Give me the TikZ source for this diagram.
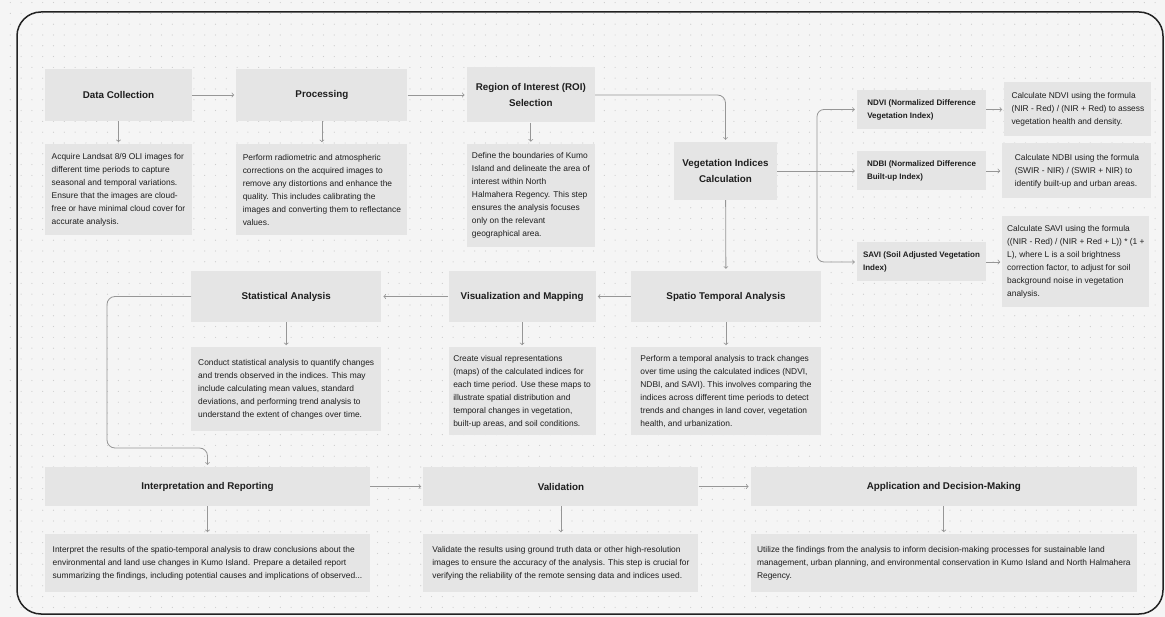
\documentclass[tikz,border=0pt]{standalone}
\usepackage{fontspec}
\setmainfont{Liberation Sans}
\usetikzlibrary{arrows, positioning}
\definecolor{bggray}{HTML}{F5F5F5}
\definecolor{dotgray}{HTML}{CDCDCD}
\definecolor{boxgray}{HTML}{E5E5E5}
\definecolor{inkgray}{HTML}{1E1E1E}
\definecolor{arrowgray}{HTML}{969696}
\definecolor{framegray}{HTML}{222222}

\begin{document}
\begin{tikzpicture}[x=1pt, y=-1pt]
		\tikzstyle{Node} = [rectangle, fill=boxgray, text=inkgray, align=center, font=\fontsize{9.8}{16}\selectfont\bfseries, inner sep=4pt]
		\tikzstyle{SubNode} = [rectangle, fill=boxgray, text=inkgray, align=left, font=\fontsize{8}{13}\selectfont\bfseries, minimum width=129pt, minimum height=39pt, inner sep=4pt]
		\tikzstyle{Text} = [rectangle, fill=boxgray, text=inkgray, align=left, font=\fontsize{8.4}{13}\selectfont, inner sep=4pt]
		\tikzstyle{arrow} = [draw=arrowgray, line width=0.8pt, ->, >=to, shorten >=2pt]
		\tikzstyle{line} = [draw=arrowgray, line width=0.8pt]

		% background, dots and frame
		\useasboundingbox (0,0) rectangle (1165,617);
		\fill[bggray] (0,0) rectangle (1165,617);
		\foreach \i in {0,...,107}{\foreach \j in {0,...,57}{\fill[dotgray] (\i*10.8+10.3,\j*10.8+2.6) circle[radius=0.6pt];}}
		\draw[framegray, line width=1.5pt, rounded corners=24pt] (17,12) rectangle (1163,614);

		% top row
		\node (dc) [Node, minimum width=147pt, minimum height=52pt] at (118.5,95) {Data Collection};
		\node (proc) [Node, minimum width=171pt, minimum height=52pt, right=44pt of dc] {Processing};
		\node (roi) [Node, minimum width=128pt, minimum height=55pt, right=59pt of proc] {Region of Interest (ROI)\\Selection};
		\node (dcb) [Text, minimum width=147pt, minimum height=91pt, below=23pt of dc] {Acquire Landsat 8/9 OLI images for\\different time periods to capture\\seasonal and temporal variations.\\Ensure that the images are cloud-\\free or have minimal cloud cover for\\accurate analysis.};
		\node (procb) [Text, minimum width=171pt, minimum height=91pt, below=23pt of proc] {Perform radiometric and atmospheric\\corrections on the acquired images to\\remove any distortions and enhance the\\quality. This includes calibrating the\\images and converting them to reflectance\\values.};
		\node (roib) [Text, minimum width=128pt, minimum height=103pt, below=21pt of roi] {Define the boundaries of Kumo\\Island and delineate the area of\\interest within North\\Halmahera Regency. This step\\ensures the analysis focuses\\only on the relevant\\geographical area.};

		% indices
		\node (vic) [Node, minimum width=103pt, minimum height=58pt] at (725.5,171) {Vegetation Indices\\Calculation};
		\node (ndvi) [SubNode] at (921.5,109.5) {NDVI (Normalized Difference\\Vegetation Index)};
		\node (ndbi) [SubNode] at (921.5,171) {NDBI (Normalized Difference\\Built-up Index)};
		\node (savi) [SubNode] at (921.5,262) {SAVI (Soil Adjusted Vegetation\\Index)};
		\node (ndvid) [Text, minimum width=147pt, minimum height=54pt, right=18pt of ndvi] {Calculate NDVI using the formula\\(NIR - Red) / (NIR + Red) to assess\\vegetation health and density.};
		\node (ndbid) [Text, minimum width=149pt, minimum height=55pt, right=16pt of ndbi] {Calculate NDBI using the formula\\(SWIR - NIR) / (SWIR + NIR) to\\identify built-up and urban areas.};
		\node (savid) [Text, minimum width=147pt, minimum height=91pt, right=16pt of savi] {Calculate SAVI using the formula\\((NIR - Red) / (NIR + Red + L)) * (1 +\\L), where L is a soil brightness\\correction factor, to adjust for soil\\background noise in vegetation\\analysis.};

		% middle row
		\node (sta) [Node, minimum width=190pt, minimum height=51pt] at (726,296.5) {Spatio Temporal Analysis};
		\node (vm) [Node, minimum width=147pt, minimum height=51pt, left=35pt of sta] {Visualization and Mapping};
		\node (sa) [Node, minimum width=190pt, minimum height=51pt, left=67pt of vm] {Statistical Analysis};
		\node (stab) [Text, minimum width=190pt, minimum height=88pt, below=25pt of sta] {Perform a temporal analysis to track changes\\over time using the calculated indices (NDVI,\\NDBI, and SAVI). This involves comparing the\\indices across different time periods to detect\\trends and changes in land cover, vegetation\\health, and urbanization.};
		\node (vmb) [Text, minimum width=147pt, minimum height=88pt, below=25pt of vm] {Create visual representations\\(maps) of the calculated indices for\\each time period. Use these maps to\\illustrate spatial distribution and\\temporal changes in vegetation,\\built-up areas, and soil conditions.};
		\node (sab) [Text, minimum width=190pt, minimum height=84pt, below=25pt of sa] {Conduct statistical analysis to quantify changes\\and trends observed in the indices. This may\\include calculating mean values, standard\\deviations, and performing trend analysis to\\understand the extent of changes over time.};

		% bottom row
		\node (ir) [Node, minimum width=325pt, minimum height=39pt] at (207.5,486.5) {Interpretation and Reporting};
		\node (val) [Node, minimum width=275pt, minimum height=39pt, right=53pt of ir] {Validation};
		\node (app) [Node, minimum width=386pt, minimum height=39pt, right=52pt of val] {Application and Decision-Making};
		\node (irb) [Text, minimum width=325pt, minimum height=58pt, below=28pt of ir] {Interpret the results of the spatio-temporal analysis to draw conclusions about the\\environmental and land use changes in Kumo Island. Prepare a detailed report\\summarizing the findings, including potential causes and implications of observed...};
		\node (valb) [Text, minimum width=275pt, minimum height=58pt, below=28pt of val] {Validate the results using ground truth data or other high-resolution\\images to ensure the accuracy of the analysis. This step is crucial for\\verifying the reliability of the remote sensing data and indices used.};
		\node (appb) [Text, minimum width=386pt, minimum height=58pt, below=28pt of app] {Utilize the findings from the analysis to inform decision-making processes for sustainable land\\management, urban planning, and environmental conservation in Kumo Island and North Halmahera\\Regency.};

		\coordinate (fork) at (817,171);
		\coordinate (loopcorner) at (107,448);

		% connectors
		\foreach \a/\b in {dc/dcb, proc/procb, roi/roib, sta/stab, vm/vmb, sa/sab, ir/irb, val/valb, app/appb,
			dc/proc, proc/roi, ndvi/ndvid, ndbi/ndbid, savi/savid, vic/sta, sta/vm, vm/sa, ir/val, val/app}
			\draw[arrow] (\a) -- (\b);
		\draw[arrow, rounded corners=8pt] (roi.east) -| (vic.north);
		\draw[line] (vic) -- (fork);
		\draw[arrow] (fork) -- (ndbi);
		\draw[arrow, rounded corners=7pt] (fork) |- (ndvi);
		\draw[arrow, rounded corners=7pt] (fork) |- (savi);
		\draw[arrow, rounded corners=8pt] (sa.west) -| (loopcorner) -| (ir.north);
\end{tikzpicture}
\end{document}
